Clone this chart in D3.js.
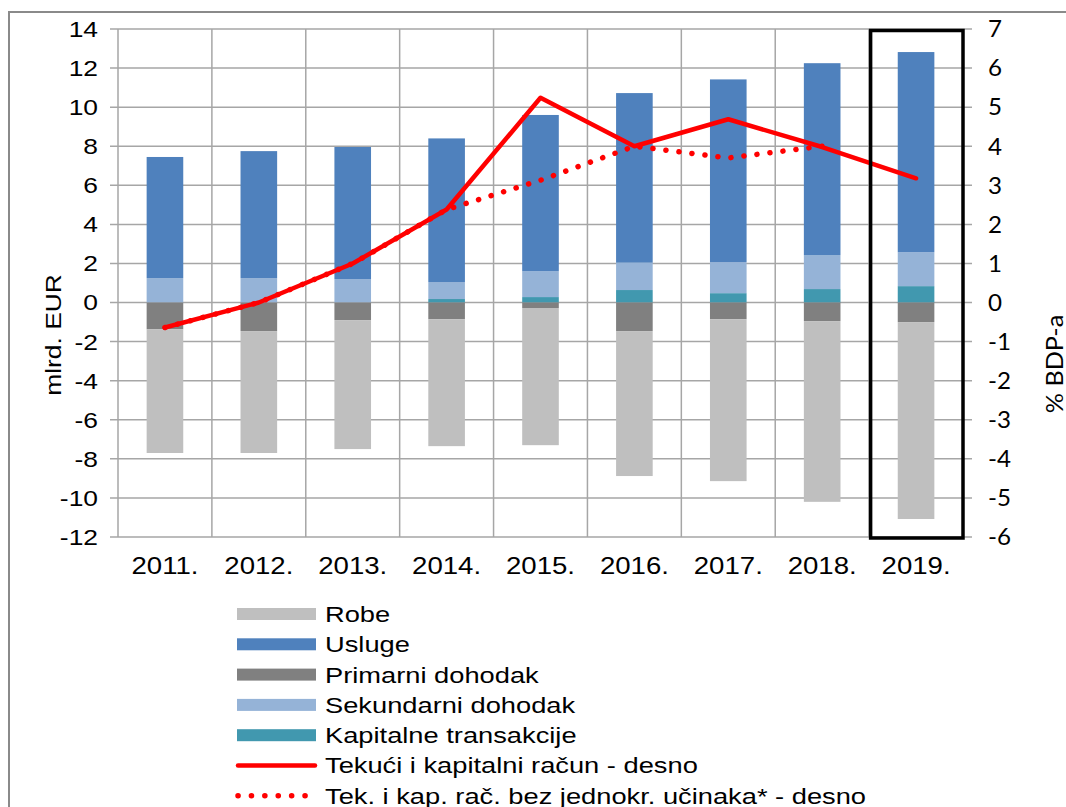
<!DOCTYPE html>
<html>
<head>
<meta charset="utf-8">
<script src="https://cdn.jsdelivr.net/npm/d3@7"></script>
<style>
  body { margin: 0; background: #fff; }
  svg { display: block; }
</style>
</head>
<body>
<script>
// podaci (mlrd. EUR i % BDP-a)
const years = ['2011.', '2012.', '2013.', '2014.', '2015.', '2016.', '2017.', '2018.', '2019.'];
const kapitalne = [0, 0, 0, 0.18, 0.28, 0.64, 0.48, 0.69, 0.84];
const sekundarni = [1.25, 1.25, 1.2, 0.87, 1.32, 1.4, 1.59, 1.74, 1.74];
const usluge = [6.2, 6.5, 6.76, 7.35, 8.0, 8.68, 9.35, 9.82, 10.24];
const primarni = [-1.36, -1.46, -0.9, -0.85, -0.28, -1.46, -0.85, -0.95, -1.0];
const robe = [-6.34, -6.24, -6.6, -6.5, -7.02, -7.42, -8.29, -9.25, -10.08];
const tekuci = [-0.64, 0.0, 1.0, 2.38, 5.24, 4.0, 4.69, 3.98, 3.18];
const bezJednokr = [-0.64, 0.0, 1.0, 2.38, 3.13, 4.0, 3.7, 4.0, null];
const leftTicks = [-12, -10, -8, -6, -4, -2, 0, 2, 4, 6, 8, 10, 12, 14];
const rightTicks = [-6, -5, -4, -3, -2, -1, 0, 1, 2, 3, 4, 5, 6, 7];

const width = 1066, height = 807;
const plot = { left: 118, right: 963, top: 29, bottom: 537 };
const stretch = 1.2; // tekst u originalu je vodoravno razvučen

const svg = d3.select('body').append('svg')
    .attr('width', width)
    .attr('height', height);

// okvir grafikona
svg.append('path')
    .attr('d', `M9,${height} V12 H${width}`)
    .attr('fill', 'none')
    .attr('stroke', '#8a8a8a')
    .attr('stroke-width', 2);

const x = d3.scaleBand().domain(years).range([plot.left, plot.right]).paddingInner(0).paddingOuter(0);
const yL = d3.scaleLinear().domain([-12, 14]).range([plot.bottom, plot.top]);
const yR = d3.scaleLinear().domain([-6, 7]).range([plot.bottom, plot.top]);
const barW = x.bandwidth() * 0.39;

// mreža
const grid = svg.append('g').attr('stroke', '#a6a6a6').attr('stroke-width', 1.5);
leftTicks.forEach(t => {
    grid.append('line').attr('x1', plot.left - 8).attr('x2', plot.right + 9)
        .attr('y1', yL(t)).attr('y2', yL(t));
});
years.forEach(yr => {
    grid.append('line').attr('x1', x(yr)).attr('x2', x(yr))
        .attr('y1', plot.top).attr('y2', plot.bottom);
});
grid.append('line').attr('x1', plot.right).attr('x2', plot.right)
    .attr('y1', plot.top).attr('y2', plot.bottom);

// stupci (složeni)
const series = [
    { name: 'Kapitalne transakcije', values: kapitalne, color: '#4198af' },
    { name: 'Sekundarni dohodak', values: sekundarni, color: '#95b3d7' },
    { name: 'Usluge', values: usluge, color: '#4f81bd' },
    { name: 'Primarni dohodak', values: primarni, color: '#808080' },
    { name: 'Robe', values: robe, color: '#bfbfbf' }
];
const bars = svg.append('g');
years.forEach((yr, i) => {
    let pos = 0, neg = 0;
    series.forEach(s => {
        const v = s.values[i];
        if (!v) return;
        let y0, y1;
        if (v >= 0) { y0 = pos; y1 = pos + v; pos = y1; }
        else { y0 = neg; y1 = neg + v; neg = y1; }
        bars.append('rect')
            .attr('x', x(yr) + (x.bandwidth() - barW) / 2)
            .attr('width', barW)
            .attr('y', yL(Math.max(y0, y1)))
            .attr('height', Math.abs(yL(y0) - yL(y1)))
            .attr('fill', s.color);
    });
});

// linije (desna os)
const cx = d => x(d) + x.bandwidth() / 2;
const line = d3.line()
    .defined(d => d[1] !== null)
    .x(d => cx(d[0]))
    .y(d => yR(d[1]));

svg.append('path')
    .datum(years.map((yr, i) => [yr, bezJednokr[i]]))
    .attr('d', line)
    .attr('fill', 'none')
    .attr('stroke', '#ff0000')
    .attr('stroke-width', 5.5)
    .attr('stroke-linecap', 'round')
    .attr('stroke-dasharray', '0.1 13');

svg.append('path')
    .datum(years.map((yr, i) => [yr, tekuci[i]]))
    .attr('d', line)
    .attr('fill', 'none')
    .attr('stroke', '#ff0000')
    .attr('stroke-width', 4.5)
    .attr('stroke-linejoin', 'round')
    .attr('stroke-linecap', 'round');

// okvir oko 2019.
svg.append('rect')
    .attr('x', x('2019.') + 1.5)
    .attr('y', plot.top + 1.5)
    .attr('width', x.bandwidth() - 1.5)
    .attr('height', plot.bottom - plot.top - 0.5)
    .attr('fill', 'none')
    .attr('stroke', '#000')
    .attr('stroke-width', 3.5);

// oznake osi
const axisFont = '"Liberation Sans", Arial, sans-serif';
const sideFont = 'Lato, "Open Sans", sans-serif';

function label(g, tx, ty, txt, opts) {
    const rot = opts.rotate ? ` rotate(${opts.rotate})` : '';
    return g.append('text')
        .attr('transform', `translate(${tx},${ty})${rot} scale(${opts.sx || stretch},1)`)
        .attr('dy', opts.dy === undefined ? '0.36em' : opts.dy)
        .attr('text-anchor', opts.anchor || 'start')
        .attr('font-family', opts.font || axisFont)
        .attr('font-size', opts.size || 22)
        .attr('fill', '#000')
        .text(txt);
}

const labels = svg.append('g');
leftTicks.forEach(t => label(labels, 98, yL(t), t, { anchor: 'end' }));
rightTicks.forEach(t => label(labels, 988, yR(t), t, { font: sideFont, size: 23, sx: 1.05 }));
years.forEach(yr => label(labels, cx(yr), 566, yr, { anchor: 'middle', size: 23 }));

label(labels, 61, 335, 'mlrd. EUR', { anchor: 'middle', rotate: -90, dy: 0 });
label(labels, 1063, 364, '% BDP-a', { anchor: 'middle', rotate: -90, dy: 0, font: sideFont, size: 24, sx: 1.05 });

// legenda
const legendItems = [
    { name: 'Robe', type: 'rect', color: '#bfbfbf' },
    { name: 'Usluge', type: 'rect', color: '#4f81bd' },
    { name: 'Primarni dohodak', type: 'rect', color: '#808080' },
    { name: 'Sekundarni dohodak', type: 'rect', color: '#95b3d7' },
    { name: 'Kapitalne transakcije', type: 'rect', color: '#4198af' },
    { name: 'Tekući i kapitalni račun - desno', type: 'line', color: '#ff0000' },
    { name: 'Tek. i kap. rač. bez jednokr. učinaka* - desno', type: 'dots', color: '#ff0000' }
];
const legend = svg.append('g');
legendItems.forEach((it, i) => {
    const cy = 614 + i * 30.3;
    if (it.type === 'rect') {
        legend.append('rect').attr('x', 237).attr('y', cy - 6).attr('width', 79).attr('height', 12).attr('fill', it.color);
    } else if (it.type === 'line') {
        legend.append('line').attr('x1', 238).attr('x2', 315).attr('y1', cy).attr('y2', cy)
            .attr('stroke', it.color).attr('stroke-width', 4.5).attr('stroke-linecap', 'round');
    } else {
        legend.append('line').attr('x1', 238).attr('x2', 318).attr('y1', cy).attr('y2', cy)
            .attr('stroke', it.color).attr('stroke-width', 5.5).attr('stroke-linecap', 'round')
            .attr('stroke-dasharray', '0.1 13.3');
    }
    label(legend, 325, cy, it.name, { size: 22, sx: 1.24 });
});
</script>
</body>
</html>
